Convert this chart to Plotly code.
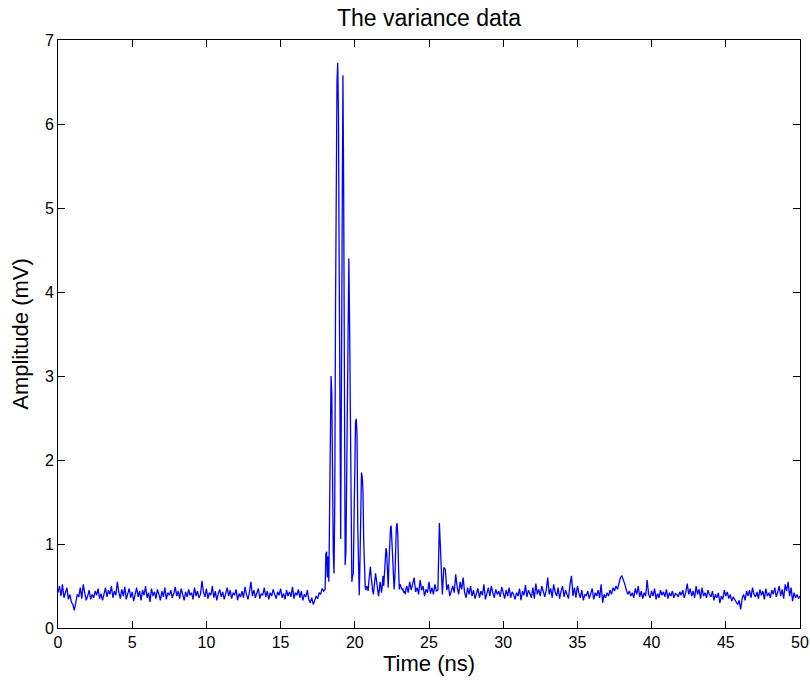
import numpy as np
import plotly.graph_objects as go

# Segment A: 0.0 - 17.9 ns, step 0.1 ns
amp_a = [
    0.42, 0.50, 0.38, 0.52, 0.36, 0.44, 0.48, 0.34, 0.40, 0.31,
    0.28, 0.21, 0.33, 0.40, 0.37, 0.48, 0.35, 0.52, 0.42, 0.33,
    0.38, 0.45, 0.34, 0.40, 0.36, 0.44, 0.39, 0.47, 0.35, 0.41,
    0.33, 0.43, 0.48, 0.37, 0.45, 0.40, 0.50, 0.36, 0.44, 0.39,
    0.55, 0.42, 0.35, 0.46, 0.38, 0.49, 0.34, 0.41, 0.47, 0.36,
    0.43, 0.32, 0.40, 0.48, 0.37, 0.44, 0.33, 0.45, 0.39, 0.50,
    0.36, 0.42, 0.31, 0.47, 0.38, 0.43, 0.35, 0.46, 0.40, 0.33,
    0.44, 0.37, 0.48, 0.34, 0.42, 0.39, 0.45, 0.36, 0.41, 0.49,
    0.38, 0.44, 0.35, 0.47, 0.40, 0.33, 0.43, 0.37, 0.46, 0.39,
    0.42, 0.34, 0.48, 0.38, 0.44, 0.36, 0.40, 0.56, 0.43, 0.37,
    0.47, 0.35, 0.42, 0.39, 0.50, 0.36, 0.44, 0.33, 0.41, 0.46,
    0.37, 0.43, 0.34, 0.40, 0.48, 0.38, 0.45, 0.35, 0.42, 0.39,
    0.46, 0.33, 0.41, 0.37, 0.44, 0.36, 0.49, 0.40, 0.34, 0.43,
    0.55, 0.38, 0.45, 0.36, 0.42, 0.47, 0.35, 0.41, 0.39, 0.48,
    0.37, 0.44, 0.34, 0.42, 0.38, 0.46, 0.40, 0.35, 0.43, 0.39,
    0.47, 0.36, 0.41, 0.34, 0.45, 0.38, 0.43, 0.37, 0.49, 0.35,
    0.42, 0.39, 0.46, 0.36, 0.44, 0.33, 0.40, 0.37, 0.45, 0.34,
    0.30, 0.36, 0.28, 0.33, 0.38, 0.35, 0.42, 0.40, 0.47, 0.44,
]

# Segment B: 18.00 - 23.45 ns, step 0.05 ns (the burst)
amp_b = [
    0.46, 0.88, 0.91, 0.60, 0.85, 0.55, 1.60, 2.60, 3.00, 2.80,
    1.60, 0.90, 0.65, 1.50, 3.80, 5.80, 6.50, 6.73, 6.10, 4.20,
    1.80, 1.06, 3.00, 5.90, 6.58, 5.20, 2.60, 0.75, 0.90, 1.80,
    3.20, 4.20, 4.40, 3.60, 2.20, 0.90, 0.55, 0.62, 0.65, 1.30,
    2.00, 2.45, 2.49, 2.30, 1.20, 0.60, 0.39, 0.80, 1.60, 1.85,
    1.80, 1.64, 1.05, 0.60, 0.49, 0.45, 0.50, 0.48, 0.44, 0.56,
    0.70, 0.73, 0.62, 0.50, 0.45, 0.40, 0.47, 0.60, 0.65, 0.58,
    0.52, 0.42, 0.38, 0.45, 0.55, 0.50, 0.42, 0.50, 0.62, 0.50,
    0.62, 0.80, 0.95, 0.90, 0.55, 0.48, 0.75, 1.00, 1.18, 1.22,
    1.00, 0.96, 0.70, 0.46, 0.60, 1.00, 1.20, 1.25, 1.10, 0.70,
    0.46, 0.52, 0.50, 0.48, 0.45, 0.47, 0.42, 0.44, 0.40, 0.47,
]

# Segment C: 23.5 - 50.0 ns, step 0.1 ns
amp_c = [
    0.50, 0.42, 0.55, 0.45, 0.52,
    0.60, 0.43, 0.48, 0.40, 0.57, 0.45, 0.50, 0.38, 0.46, 0.42,
    0.55, 0.41, 0.48, 0.40, 0.52, 0.44, 0.45, 1.25, 0.80, 0.40,
    0.72, 0.70, 0.45, 0.52, 0.38, 0.44, 0.50, 0.42, 0.64, 0.48,
    0.40, 0.55, 0.46, 0.60, 0.42, 0.36, 0.48, 0.40, 0.50, 0.38,
    0.45, 0.35, 0.42, 0.47, 0.36, 0.44, 0.39, 0.52, 0.34, 0.41,
    0.48, 0.38, 0.50, 0.42, 0.36, 0.46, 0.40, 0.44, 0.37, 0.49,
    0.41, 0.35, 0.45, 0.38, 0.48, 0.36, 0.43, 0.40, 0.34, 0.42,
    0.38, 0.47, 0.33, 0.44, 0.39, 0.51, 0.37, 0.45, 0.41, 0.36,
    0.48, 0.35, 0.53, 0.40, 0.46, 0.38, 0.50, 0.42, 0.37, 0.45,
    0.60, 0.40, 0.47, 0.36, 0.52, 0.43, 0.38, 0.48, 0.35, 0.44,
    0.50, 0.37, 0.45, 0.40, 0.35, 0.52, 0.62, 0.38, 0.48, 0.36,
    0.50, 0.42, 0.36, 0.45, 0.33, 0.40, 0.38, 0.44, 0.35, 0.41,
    0.47, 0.34, 0.42, 0.38, 0.45, 0.36, 0.52, 0.30, 0.40, 0.36,
    0.42, 0.38, 0.45, 0.40, 0.48, 0.44, 0.50, 0.46, 0.55, 0.60,
    0.62, 0.58, 0.52, 0.45, 0.40, 0.44, 0.38, 0.42, 0.36, 0.47,
    0.40, 0.50, 0.37, 0.44, 0.35, 0.42, 0.38, 0.57, 0.40, 0.36,
    0.44, 0.38, 0.47, 0.34, 0.41, 0.36, 0.45, 0.39, 0.43, 0.37,
    0.46, 0.35, 0.42, 0.38, 0.44, 0.36, 0.41, 0.40, 0.37, 0.43,
    0.39, 0.45, 0.36, 0.42, 0.53, 0.40, 0.47, 0.38, 0.44, 0.36,
    0.50, 0.40, 0.46, 0.35, 0.48, 0.38, 0.42, 0.36, 0.45, 0.40,
    0.37, 0.44, 0.33, 0.40, 0.36, 0.42, 0.30, 0.38, 0.34, 0.45,
    0.38, 0.43, 0.35, 0.40, 0.32, 0.37, 0.34, 0.30, 0.28, 0.33,
    0.22, 0.35, 0.40, 0.33, 0.44, 0.38, 0.45, 0.36, 0.48, 0.40,
    0.37, 0.43, 0.35, 0.46, 0.39, 0.44, 0.34, 0.47, 0.38, 0.42,
    0.36, 0.45, 0.40, 0.48, 0.37, 0.43, 0.50, 0.38, 0.46, 0.35,
    0.52, 0.44, 0.55, 0.38, 0.48, 0.32, 0.42, 0.36, 0.40, 0.35,
    0.38,
]

x_ticks = [0, 5, 10, 15, 20, 25, 30, 35, 40, 45, 50]
y_ticks = [0, 1, 2, 3, 4, 5, 6, 7]

t_a = np.round(np.arange(len(amp_a)) * 0.1, 3)
t_b = np.round(18.0 + np.arange(len(amp_b)) * 0.05, 3)
t_c = np.round(23.5 + np.arange(len(amp_c)) * 0.1, 3)
time = np.concatenate([t_a, t_b, t_c])
amp = np.concatenate([amp_a, amp_b, amp_c])

font_family = "Liberation Sans, Arial, sans-serif"

fig = go.Figure()
fig.add_trace(go.Scatter(x=time, y=amp, mode="lines",
                         line=dict(color="#0000FF", width=1.3),
                         showlegend=False))

fig.update_layout(
    width=810, height=686,
    margin=dict(l=58, r=10, t=40, b=58),
    paper_bgcolor="white", plot_bgcolor="white",
    font=dict(family=font_family, color="black", size=16),
    title=dict(text="The variance data", x=0.5, xanchor="center", xref="paper",
               y=1 - 18 / 686, yanchor="middle", yref="container",
               font=dict(size=23, family=font_family, color="black")),
)
fig.update_xaxes(
    range=[0, 50], tickvals=x_ticks, ticktext=[str(v) for v in x_ticks],
    ticks="inside", ticklen=7, tickcolor="black", tickwidth=1,
    showline=True, linecolor="black", linewidth=1, mirror="ticks",
    showgrid=False, zeroline=False, automargin=False,
    tickfont=dict(size=16), title=dict(text="Time (ns)", font=dict(size=22), standoff=4),
)
fig.update_yaxes(
    range=[0, 7], tickvals=y_ticks, ticktext=[str(v) for v in y_ticks],
    ticks="inside", ticklen=7, tickcolor="black", tickwidth=1,
    showline=True, linecolor="black", linewidth=1, mirror="ticks",
    showgrid=False, zeroline=False, automargin=False,
    tickfont=dict(size=16), title=dict(text="Amplitude (mV)", font=dict(size=22), standoff=10),
)

fig.write_html("out.html")
